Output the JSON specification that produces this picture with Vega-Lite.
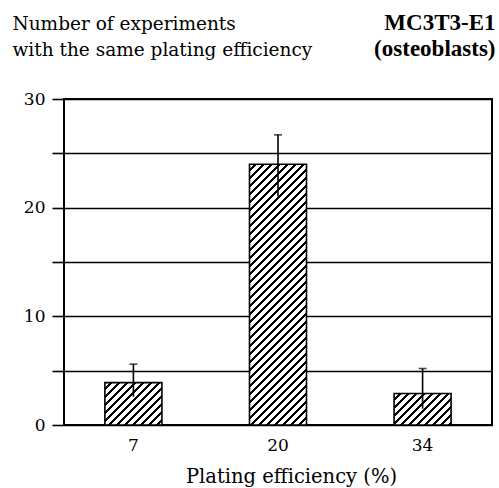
{
  "$schema": "https://vega.github.io/schema/vega-lite/v6.json",
  "autosize": {"type": "none"},
  "padding": {"left": 64, "top": 99, "right": 7, "bottom": 63},
  "width": 428,
  "height": 326,
  "background": "white",
  "config": {
    "view": {"stroke": "#000", "strokeWidth": 2},
    "font": "DejaVu Serif",
    "axis": {"labelColor": "#000", "titleColor": "#000", "labelFont": "DejaVu Serif", "titleFont": "DejaVu Serif"}
  },
  "data": {
    "values": [
      {"eff": "7", "n": 3.9, "lo": 2.6, "hi": 5.6},
      {"eff": "20", "n": 24, "lo": 21, "hi": 26.7},
      {"eff": "34", "n": 2.9, "lo": 1.5, "hi": 5.2}
    ]
  },
  "resolve": {"axis": {"x": "independent"}},
  "layer": [
    {
      "mark": {"type": "bar", "width": 57, "stroke": "#000", "strokeWidth": 1.6},
      "encoding": {
        "x": {
          "field": "eff", "type": "nominal", "sort": ["7", "20", "34"],
          "scale": {"paddingInner": 0.6, "paddingOuter": 0.28},
          "axis": {
            "labelAngle": 0, "ticks": false, "tickSize": 0, "domain": false, "grid": false,
            "labelPadding": 12, "labelFontSize": 17, "labelFont": "DejaVu Serif",
            "title": "Plating efficiency (%)", "titleFontSize": 19.5, "titleFontWeight": "normal", "titleFont": "DejaVu Serif",
            "titleX": 227, "titleY": 57, "titleBaseline": "alphabetic", "titleAlign": "center"
          }
        },
        "y": {
          "field": "n", "type": "quantitative",
          "scale": {"domain": [0, 30], "nice": false},
          "title": ["Number of experiments", "with the same plating efficiency"],
          "axis": {
            "values": [0, 5, 10, 15, 20, 25, 30],
            "labelExpr": "datum.value % 10 === 0 ? datum.label : ''",
            "grid": true, "gridColor": "#000", "gridWidth": 1.6, "gridOpacity": 1,
            "domain": false, "tickSize": 12, "tickColor": "#000", "tickWidth": 1.6,
            "labelFontSize": 17, "labelPadding": 7, "labelFont": "DejaVu Serif",
            "titleAngle": 0, "titleAlign": "left", "titleBaseline": "alphabetic", "titleFont": "DejaVu Serif",
            "titleX": -52, "titleY": -70, "titleFontSize": 18.5, "titleFontWeight": "normal", "titleLineHeight": 26
          }
        },
        "fill": {
          "condition": [
            {"test": "datum.eff === '7'", "value": {"gradient": "linear", "x1": 0, "y1": 0, "x2": 1.175, "y2": 0.8737, "stops": [
              {"offset":0,"color":"#fff"},{"offset":0.0492,"color":"#fff"},{"offset":0.0492,"color":"#000"},{"offset":0.0769,"color":"#000"},
              {"offset":0.0769,"color":"#fff"},{"offset":0.1262,"color":"#fff"},{"offset":0.1262,"color":"#000"},{"offset":0.1538,"color":"#000"},
              {"offset":0.1538,"color":"#fff"},{"offset":0.2031,"color":"#fff"},{"offset":0.2031,"color":"#000"},{"offset":0.2308,"color":"#000"},
              {"offset":0.2308,"color":"#fff"},{"offset":0.28,"color":"#fff"},{"offset":0.28,"color":"#000"},{"offset":0.3077,"color":"#000"},
              {"offset":0.3077,"color":"#fff"},{"offset":0.3569,"color":"#fff"},{"offset":0.3569,"color":"#000"},{"offset":0.3846,"color":"#000"},
              {"offset":0.3846,"color":"#fff"},{"offset":0.4338,"color":"#fff"},{"offset":0.4338,"color":"#000"},{"offset":0.4615,"color":"#000"},
              {"offset":0.4615,"color":"#fff"},{"offset":0.5108,"color":"#fff"},{"offset":0.5108,"color":"#000"},{"offset":0.5385,"color":"#000"},
              {"offset":0.5385,"color":"#fff"},{"offset":0.5877,"color":"#fff"},{"offset":0.5877,"color":"#000"},{"offset":0.6154,"color":"#000"},
              {"offset":0.6154,"color":"#fff"},{"offset":0.6646,"color":"#fff"},{"offset":0.6646,"color":"#000"},{"offset":0.6923,"color":"#000"},
              {"offset":0.6923,"color":"#fff"},{"offset":0.7415,"color":"#fff"},{"offset":0.7415,"color":"#000"},{"offset":0.7692,"color":"#000"},
              {"offset":0.7692,"color":"#fff"},{"offset":0.8185,"color":"#fff"},{"offset":0.8185,"color":"#000"},{"offset":0.8462,"color":"#000"},
              {"offset":0.8462,"color":"#fff"},{"offset":0.8954,"color":"#fff"},{"offset":0.8954,"color":"#000"},{"offset":0.9231,"color":"#000"},
              {"offset":0.9231,"color":"#fff"},{"offset":0.9723,"color":"#fff"},{"offset":0.9723,"color":"#000"},{"offset":1,"color":"#000"}
            ]}},
            {"test": "datum.eff === '20'", "value": {"gradient": "linear", "x1": 0, "y1": 0, "x2": 0.2559, "y2": 1.1711, "stops": [
              {"offset":0,"color":"#fff"},{"offset":0.016,"color":"#fff"},{"offset":0.016,"color":"#000"},{"offset":0.025,"color":"#000"},
              {"offset":0.025,"color":"#fff"},{"offset":0.041,"color":"#fff"},{"offset":0.041,"color":"#000"},{"offset":0.05,"color":"#000"},
              {"offset":0.05,"color":"#fff"},{"offset":0.066,"color":"#fff"},{"offset":0.066,"color":"#000"},{"offset":0.075,"color":"#000"},
              {"offset":0.075,"color":"#fff"},{"offset":0.091,"color":"#fff"},{"offset":0.091,"color":"#000"},{"offset":0.1,"color":"#000"},
              {"offset":0.1,"color":"#fff"},{"offset":0.116,"color":"#fff"},{"offset":0.116,"color":"#000"},{"offset":0.125,"color":"#000"},
              {"offset":0.125,"color":"#fff"},{"offset":0.141,"color":"#fff"},{"offset":0.141,"color":"#000"},{"offset":0.15,"color":"#000"},
              {"offset":0.15,"color":"#fff"},{"offset":0.166,"color":"#fff"},{"offset":0.166,"color":"#000"},{"offset":0.175,"color":"#000"},
              {"offset":0.175,"color":"#fff"},{"offset":0.191,"color":"#fff"},{"offset":0.191,"color":"#000"},{"offset":0.2,"color":"#000"},
              {"offset":0.2,"color":"#fff"},{"offset":0.216,"color":"#fff"},{"offset":0.216,"color":"#000"},{"offset":0.225,"color":"#000"},
              {"offset":0.225,"color":"#fff"},{"offset":0.241,"color":"#fff"},{"offset":0.241,"color":"#000"},{"offset":0.25,"color":"#000"},
              {"offset":0.25,"color":"#fff"},{"offset":0.266,"color":"#fff"},{"offset":0.266,"color":"#000"},{"offset":0.275,"color":"#000"},
              {"offset":0.275,"color":"#fff"},{"offset":0.291,"color":"#fff"},{"offset":0.291,"color":"#000"},{"offset":0.3,"color":"#000"},
              {"offset":0.3,"color":"#fff"},{"offset":0.316,"color":"#fff"},{"offset":0.316,"color":"#000"},{"offset":0.325,"color":"#000"},
              {"offset":0.325,"color":"#fff"},{"offset":0.341,"color":"#fff"},{"offset":0.341,"color":"#000"},{"offset":0.35,"color":"#000"},
              {"offset":0.35,"color":"#fff"},{"offset":0.366,"color":"#fff"},{"offset":0.366,"color":"#000"},{"offset":0.375,"color":"#000"},
              {"offset":0.375,"color":"#fff"},{"offset":0.391,"color":"#fff"},{"offset":0.391,"color":"#000"},{"offset":0.4,"color":"#000"},
              {"offset":0.4,"color":"#fff"},{"offset":0.416,"color":"#fff"},{"offset":0.416,"color":"#000"},{"offset":0.425,"color":"#000"},
              {"offset":0.425,"color":"#fff"},{"offset":0.441,"color":"#fff"},{"offset":0.441,"color":"#000"},{"offset":0.45,"color":"#000"},
              {"offset":0.45,"color":"#fff"},{"offset":0.466,"color":"#fff"},{"offset":0.466,"color":"#000"},{"offset":0.475,"color":"#000"},
              {"offset":0.475,"color":"#fff"},{"offset":0.491,"color":"#fff"},{"offset":0.491,"color":"#000"},{"offset":0.5,"color":"#000"},
              {"offset":0.5,"color":"#fff"},{"offset":0.516,"color":"#fff"},{"offset":0.516,"color":"#000"},{"offset":0.525,"color":"#000"},
              {"offset":0.525,"color":"#fff"},{"offset":0.541,"color":"#fff"},{"offset":0.541,"color":"#000"},{"offset":0.55,"color":"#000"},
              {"offset":0.55,"color":"#fff"},{"offset":0.566,"color":"#fff"},{"offset":0.566,"color":"#000"},{"offset":0.575,"color":"#000"},
              {"offset":0.575,"color":"#fff"},{"offset":0.591,"color":"#fff"},{"offset":0.591,"color":"#000"},{"offset":0.6,"color":"#000"},
              {"offset":0.6,"color":"#fff"},{"offset":0.616,"color":"#fff"},{"offset":0.616,"color":"#000"},{"offset":0.625,"color":"#000"},
              {"offset":0.625,"color":"#fff"},{"offset":0.641,"color":"#fff"},{"offset":0.641,"color":"#000"},{"offset":0.65,"color":"#000"},
              {"offset":0.65,"color":"#fff"},{"offset":0.666,"color":"#fff"},{"offset":0.666,"color":"#000"},{"offset":0.675,"color":"#000"},
              {"offset":0.675,"color":"#fff"},{"offset":0.691,"color":"#fff"},{"offset":0.691,"color":"#000"},{"offset":0.7,"color":"#000"},
              {"offset":0.7,"color":"#fff"},{"offset":0.716,"color":"#fff"},{"offset":0.716,"color":"#000"},{"offset":0.725,"color":"#000"},
              {"offset":0.725,"color":"#fff"},{"offset":0.741,"color":"#fff"},{"offset":0.741,"color":"#000"},{"offset":0.75,"color":"#000"},
              {"offset":0.75,"color":"#fff"},{"offset":0.766,"color":"#fff"},{"offset":0.766,"color":"#000"},{"offset":0.775,"color":"#000"},
              {"offset":0.775,"color":"#fff"},{"offset":0.791,"color":"#fff"},{"offset":0.791,"color":"#000"},{"offset":0.8,"color":"#000"},
              {"offset":0.8,"color":"#fff"},{"offset":0.816,"color":"#fff"},{"offset":0.816,"color":"#000"},{"offset":0.825,"color":"#000"},
              {"offset":0.825,"color":"#fff"},{"offset":0.841,"color":"#fff"},{"offset":0.841,"color":"#000"},{"offset":0.85,"color":"#000"},
              {"offset":0.85,"color":"#fff"},{"offset":0.866,"color":"#fff"},{"offset":0.866,"color":"#000"},{"offset":0.875,"color":"#000"},
              {"offset":0.875,"color":"#fff"},{"offset":0.891,"color":"#fff"},{"offset":0.891,"color":"#000"},{"offset":0.9,"color":"#000"},
              {"offset":0.9,"color":"#fff"},{"offset":0.916,"color":"#fff"},{"offset":0.916,"color":"#000"},{"offset":0.925,"color":"#000"},
              {"offset":0.925,"color":"#fff"},{"offset":0.941,"color":"#fff"},{"offset":0.941,"color":"#000"},{"offset":0.95,"color":"#000"},
              {"offset":0.95,"color":"#fff"},{"offset":0.966,"color":"#fff"},{"offset":0.966,"color":"#000"},{"offset":0.975,"color":"#000"},
              {"offset":0.975,"color":"#fff"},{"offset":0.991,"color":"#fff"},{"offset":0.991,"color":"#000"},{"offset":1,"color":"#000"}
            ]}}
          ],
          "value": {"gradient": "linear", "x1": 0, "y1": 0, "x2": 1.29, "y2": 0.7131, "stops": [
            {"offset":0,"color":"#fff"},{"offset":0.0533,"color":"#fff"},{"offset":0.0533,"color":"#000"},{"offset":0.0833,"color":"#000"},
            {"offset":0.0833,"color":"#fff"},{"offset":0.1367,"color":"#fff"},{"offset":0.1367,"color":"#000"},{"offset":0.1667,"color":"#000"},
            {"offset":0.1667,"color":"#fff"},{"offset":0.22,"color":"#fff"},{"offset":0.22,"color":"#000"},{"offset":0.25,"color":"#000"},
            {"offset":0.25,"color":"#fff"},{"offset":0.3033,"color":"#fff"},{"offset":0.3033,"color":"#000"},{"offset":0.3333,"color":"#000"},
            {"offset":0.3333,"color":"#fff"},{"offset":0.3867,"color":"#fff"},{"offset":0.3867,"color":"#000"},{"offset":0.4167,"color":"#000"},
            {"offset":0.4167,"color":"#fff"},{"offset":0.47,"color":"#fff"},{"offset":0.47,"color":"#000"},{"offset":0.5,"color":"#000"},
            {"offset":0.5,"color":"#fff"},{"offset":0.5533,"color":"#fff"},{"offset":0.5533,"color":"#000"},{"offset":0.5833,"color":"#000"},
            {"offset":0.5833,"color":"#fff"},{"offset":0.6367,"color":"#fff"},{"offset":0.6367,"color":"#000"},{"offset":0.6667,"color":"#000"},
            {"offset":0.6667,"color":"#fff"},{"offset":0.72,"color":"#fff"},{"offset":0.72,"color":"#000"},{"offset":0.75,"color":"#000"},
            {"offset":0.75,"color":"#fff"},{"offset":0.8033,"color":"#fff"},{"offset":0.8033,"color":"#000"},{"offset":0.8333,"color":"#000"},
            {"offset":0.8333,"color":"#fff"},{"offset":0.8867,"color":"#fff"},{"offset":0.8867,"color":"#000"},{"offset":0.9167,"color":"#000"},
            {"offset":0.9167,"color":"#fff"},{"offset":0.97,"color":"#fff"},{"offset":0.97,"color":"#000"},{"offset":1,"color":"#000"}
          ]}
        }
      }
    },
    {
      "mark": {"type": "rule", "color": "#000", "strokeWidth": 1.6},
      "encoding": {
        "x": {
          "field": "eff", "type": "nominal", "sort": ["7", "20", "34"],
          "axis": {
            "orient": "top", "labels": false, "ticks": false, "domain": false, "grid": false,
            "title": ["MC3T3-E1", "(osteoblasts)"], "titleAngle": 0, "titleAlign": "right",
            "titleBaseline": "alphabetic", "titleX": 431, "titleY": -70, "titleFont": "Liberation Serif",
            "titleFontSize": 23, "titleFontWeight": "bold", "titleLineHeight": 26
          }
        },
        "y": {"field": "lo", "type": "quantitative", "title": ["Number of experiments", "with the same plating efficiency"]},
        "y2": {"field": "hi"}
      }
    },
    {
      "mark": {"type": "tick", "color": "#000", "size": 8, "thickness": 1.6},
      "encoding": {
        "x": {"field": "eff", "type": "nominal", "sort": ["7", "20", "34"], "axis": null},
        "y": {"field": "hi", "type": "quantitative", "title": ["Number of experiments", "with the same plating efficiency"]}
      }
    }
  ]
}
